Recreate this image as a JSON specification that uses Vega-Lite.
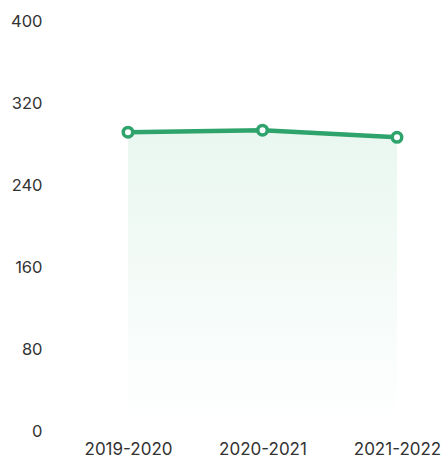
{
  "$schema": "https://vega.github.io/schema/vega-lite/v6.json",
  "autosize": {"type": "none"},
  "width": 394,
  "height": 410,
  "padding": {"left": 50, "top": 21, "right": 0, "bottom": 26},
  "config": {"view": {"stroke": null}, "font": "Inter"},
  "data": {"values": [
    {"year": "2019-2020", "value": 291.5},
    {"year": "2020-2021", "value": 293.5},
    {"year": "2021-2022", "value": 286.5}
  ]},
  "encoding": {
    "x": {"field": "year", "type": "ordinal", "sort": null,
      "scale": {"type": "point", "padding": 0.4647, "align": 0.624},
      "axis": {"title": null, "domain": false, "ticks": false, "tickSize": 0, "grid": false,
        "labelAngle": 0, "labelFontSize": 17, "labelFontWeight": "normal", "labelColor": "#333333", "labelPadding": 10, "labelFont": "Inter"}},
    "y": {"field": "value", "type": "quantitative",
      "scale": {"domain": [0, 400], "nice": false},
      "axis": {"title": null, "domain": false, "ticks": false, "tickSize": 0, "grid": false,
        "values": [0, 80, 160, 240, 320, 400],
        "labelFontSize": 16.5, "labelColor": "#333333", "labelPadding": 8, "labelFont": "Inter"}}
  },
  "layer": [
    {"mark": {"type": "area", "fill": {"gradient": "linear", "x1": 0, "y1": 0, "x2": 0, "y2": 1,
      "stops": [{"offset": 0, "color": "#e9f7f0"}, {"offset": 1, "color": "#ffffff"}]}}},
    {"mark": {"type": "line", "color": "#2ea36b", "strokeWidth": 4.5}},
    {"mark": {"type": "point", "filled": true, "fill": "#ffffff", "stroke": "#2ea36b", "strokeWidth": 3.5, "size": 90, "opacity": 1}}
  ]
}
